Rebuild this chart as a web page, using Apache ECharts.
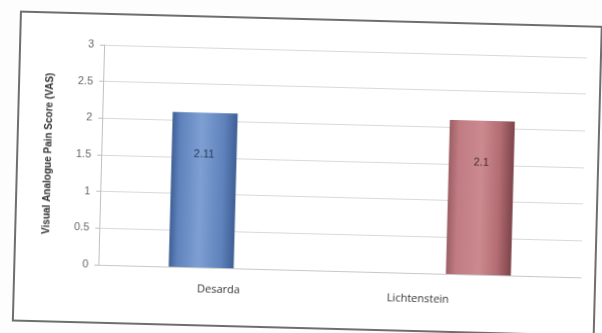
<!DOCTYPE html>
<html>
<head>
<meta charset="utf-8">
<script src="https://cdn.jsdelivr.net/npm/echarts@6/dist/echarts.min.js"></script>
<style>
  html, body { margin: 0; padding: 0; background: #ffffff; }
  #wrap { width: 602px; height: 333px; overflow: hidden; position: relative; background: #fdfdfd; }
  #chart { width: 602px; height: 333px; transform: rotate(1.5deg); transform-origin: 301px 166px; }
</style>
</head>
<body>
<div id="wrap"><div id="chart"></div></div>
<script>
// Mean VAS pain score per repair technique
const categories = ['Desarda', 'Lichtenstein'];
const desardaValues = [2.11, '-'];
const lichtensteinValues = ['-', 2.1];
const yTicks = [0, 0.5, 1, 1.5, 2, 2.5, 3];
const yAxisTitle = 'Visual Analogue Pain Score (VAS)';

const chart = echarts.init(document.getElementById('chart'), null, { renderer: 'canvas' });

function cylinder(dark, mid, light) {
  return new echarts.graphic.LinearGradient(0, 0, 1, 0, [
    { offset: 0, color: dark },
    { offset: 0.12, color: mid },
    { offset: 0.45, color: light },
    { offset: 0.8, color: mid },
    { offset: 1, color: dark }
  ]);
}

const labelStyle = {
  show: true,
  position: 'insideTop',
  distance: 36,
  fontSize: 11,
  fontFamily: 'Liberation Sans, Arial, sans-serif',
  formatter: p => String(p.value)
};

chart.setOption({
  animation: false,
  backgroundColor: 'transparent',
  graphic: [{
    type: 'rect',
    shape: { x: 17, y: 19, width: 581, height: 309 },
    style: { fill: '#ffffff', stroke: '#6e6e6e', lineWidth: 2 },
    z: -10
  }],
  grid: { left: 101, right: 18, top: 50, bottom: 63 },
  xAxis: {
    type: 'category',
    data: categories,
    axisLine: { lineStyle: { color: '#c8c8c8' } },
    axisTick: { show: false },
    axisLabel: {
      margin: 14,
      fontSize: 11,
      fontFamily: 'Open Sans, Liberation Sans, sans-serif',
      color: '#333',
      formatter: (v, i) => i === 1 ? '{b|' + v + '}' : '{a|' + v + '}',
      rich: {
        a: { fontSize: 11, color: '#333', padding: [2, 0, 0, 0] },
        b: { fontSize: 11, color: '#333', padding: [6, 84, 0, 0] }
      }
    }
  },
  yAxis: {
    type: 'value',
    min: yTicks[0],
    max: yTicks[yTicks.length - 1],
    interval: 0.5,
    name: yAxisTitle,
    nameLocation: 'middle',
    nameGap: 48,
    nameTextStyle: { fontSize: 10, fontWeight: 'bold', color: '#333', fontFamily: 'Liberation Sans, Arial, sans-serif' },
    axisLine: { show: true, lineStyle: { color: '#c0c0c0' } },
    axisTick: { show: true, length: 4, lineStyle: { color: '#c0c0c0' } },
    axisLabel: { fontSize: 11, color: '#666', margin: 10, fontFamily: 'Liberation Sans, Arial, sans-serif' },
    splitLine: { lineStyle: { color: '#d9d9d9', width: 1 } }
  },
  series: [
    {
      name: 'Desarda',
      type: 'bar',
      data: desardaValues,
      barWidth: 65,
      barGap: '-45%',
      itemStyle: { color: cylinder('#3f5f95', '#5f82bc', '#7d9fd3') },
      label: Object.assign({}, labelStyle, { color: '#2a3a58' })
    },
    {
      name: 'Lichtenstein',
      type: 'bar',
      data: lichtensteinValues,
      barWidth: 65,
      itemStyle: { color: new echarts.graphic.LinearGradient(0, 0, 1, 0, [
        { offset: 0, color: '#9c5f64' },
        { offset: 0.15, color: '#c07c82' },
        { offset: 0.5, color: '#cb8a8f' },
        { offset: 0.78, color: '#b36d73' },
        { offset: 1, color: '#7c4449' }
      ]) },
      label: Object.assign({}, labelStyle, { color: '#4a2e30' })
    }
  ]
});
</script>
</body>
</html>
